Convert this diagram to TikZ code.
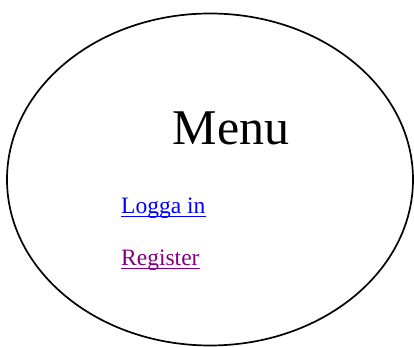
\documentclass[tikz,border=0pt]{standalone}
\usepackage{fontspec}
\setmainfont{Liberation Serif}
\usepackage{xcolor}
\definecolor{linkblue}{RGB}{0,0,255}
\definecolor{visited}{RGB}{128,0,128}

\begin{document}
\begin{tikzpicture}[x=1pt,y=1pt,
  link/.style={anchor=base west,inner sep=0pt,font=\fontsize{23.5}{28}\selectfont},
  uline/.style={line width=1pt}]
\useasboundingbox (0,0) rectangle (414,347);
\draw[line width=1.7pt](210,167.5) ellipse [x radius=203,y radius=166];
\node[anchor=base,inner sep=0pt,font=\fontsize{50}{60}\selectfont] (menu) at (231,202) {Menu};
\node[link,text=linkblue] (login) at (121,133) {Logga in};
\node[link,text=visited] (register) at (121,81) {Register};
% underlines of the links
\draw[uline,linkblue] ([yshift=-3pt]login.base west) -- ([yshift=-3pt]login.base east);
\draw[uline,visited] ([yshift=-3pt]register.base west) -- ([yshift=-3pt]register.base east);
\end{tikzpicture}
\end{document}
